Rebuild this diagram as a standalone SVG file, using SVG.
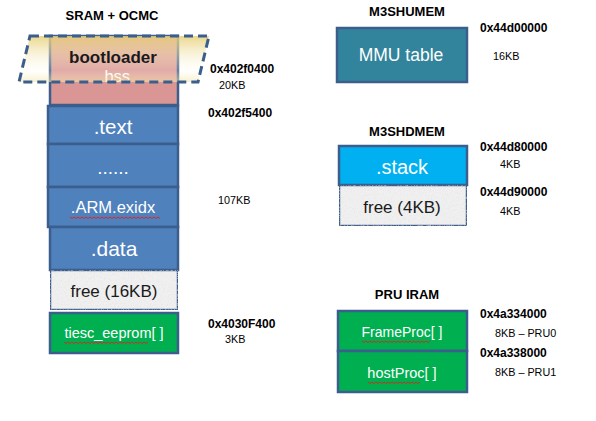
<svg xmlns="http://www.w3.org/2000/svg" width="596" height="421" viewBox="0 0 596 421">
<defs>
<linearGradient id="bl" x1="0" y1="0" x2="0" y2="1">
<stop offset="0" stop-color="#E6CF78" stop-opacity="0.85"/>
<stop offset="0.75" stop-color="#FFFCEE" stop-opacity="0.2"/>
<stop offset="1" stop-color="#F3E4A6" stop-opacity="0.6"/>
</linearGradient>
<filter id="grain" x="0" y="0" width="1" height="1">
<feTurbulence type="fractalNoise" baseFrequency="0.7" numOctaves="2" seed="3" result="n"/>
<feColorMatrix in="n" type="matrix" values="0 0 0 0 0.75  0 0 0 0 0.75  0 0 0 0 0.75  0 0 0 1.6 -0.75" result="c"/>
<feComposite in="c" in2="SourceGraphic" operator="in" result="t"/>
<feMerge><feMergeNode in="SourceGraphic"/><feMergeNode in="t"/></feMerge>
</filter>
</defs>
<style>
.box{stroke:#3B5E8C;stroke-width:2.5}
.blue{fill:#4F81BD}
.green{fill:#00B050}
.free{fill:#F0F0F0}
.wt{font-family:"Liberation Sans",Arial,sans-serif;fill:#FFFFFF;text-anchor:middle}
.dk{font-family:"Liberation Sans",Arial,sans-serif;fill:#1A1A1A;text-anchor:middle}
.title{font-family:"Liberation Sans",Arial,sans-serif;font-weight:bold;font-size:13px;fill:#000;text-anchor:middle}
.addr{font-family:"Liberation Sans",Arial,sans-serif;font-weight:bold;font-size:12px;fill:#000}
.sz{font-family:"Liberation Sans",Arial,sans-serif;font-size:10.8px;fill:#000}
.sq{fill:none;stroke:#E02020;stroke-width:0.9}
</style>
<rect width="596" height="421" fill="#FFFFFF"/>

<g id="sram">
<text class="title" x="112" y="20">SRAM + OCMC</text>
<g id="bss">
<rect class="box" x="50" y="36" width="128" height="69" fill="#D99694"/>
<text class="wt" x="115" y="81.5" font-size="16.5">.bss</text>
</g>
<g id="bootloader">
<polygon points="30,36 209,36 198,82 19,82" fill="url(#bl)" stroke="#3B5E8C" stroke-width="3" stroke-dasharray="9,5"/>
<text class="dk" x="113" y="62.5" font-size="17" font-weight="bold" fill="#262626">bootloader</text>
</g>
<g id="text">
<rect class="box blue" x="48" y="106" width="130" height="38"/>
<text class="wt" x="113" y="134" font-size="20.5">.text</text>
</g>
<g id="dots">
<rect class="box blue" x="48" y="144" width="130" height="43"/>
<text class="wt" x="113" y="174" font-size="19">......</text>
</g>
<g id="armexidx">
<rect class="box blue" x="48" y="187" width="130" height="40"/>
<text class="wt" x="113" y="213" font-size="16.5">.ARM.exidx</text>
</g>
<g id="data">
<rect class="box blue" x="50" y="227" width="128" height="43"/>
<text class="wt" x="114" y="256" font-size="21">.data</text>
</g>
<g id="free16">
<rect class="box free" x="50" y="270" width="128" height="40" filter="url(#grain)"/>
<text class="dk" x="114" y="297" font-size="17">free (16KB)</text>
</g>
<g id="eeprom">
<rect class="box green" x="50" y="313" width="128" height="40"/>
<text class="wt" x="114" y="338" font-size="14.5">tiesc_eeprom[ ]</text>
</g>
<text class="addr" x="210" y="73">0x402f0400</text>
<text class="sz" x="219" y="89">20KB</text>
<text class="addr" x="208" y="117">0x402f5400</text>
<text class="sz" x="218" y="204">107KB</text>
<text class="addr" x="208" y="328">0x4030F400</text>
<text class="sz" x="225" y="343">3KB</text>
</g>

<g id="m3shumem">
<text class="title" x="407" y="16">M3SHUMEM</text>
<g id="mmu">
<rect class="box" x="337" y="28" width="130" height="54" fill="#31849B"/>
<text class="wt" x="401" y="61" font-size="17.5">MMU table</text>
</g>
<text class="addr" x="480" y="32">0x44d00000</text>
<text class="sz" x="493" y="60">16KB</text>
</g>

<g id="m3shdmem">
<text class="title" x="407" y="136">M3SHDMEM</text>
<g id="stack">
<rect class="box" x="339" y="146" width="128" height="39" fill="#00B0F0"/>
<text class="wt" x="402" y="174" font-size="20">.stack</text>
</g>
<g id="free4">
<rect class="box free" x="339" y="185" width="128" height="41" filter="url(#grain)"/>
<text class="dk" x="402" y="213" font-size="17">free (4KB)</text>
</g>
<text class="addr" x="480" y="151">0x44d80000</text>
<text class="sz" x="500" y="168">4KB</text>
<text class="addr" x="480" y="196">0x44d90000</text>
<text class="sz" x="500" y="215">4KB</text>
</g>

<g id="pruiram">
<text class="title" x="407" y="299">PRU IRAM</text>
<g id="frameproc">
<rect class="box green" x="338" y="311" width="129" height="40"/>
<text class="wt" x="402" y="337" font-size="14">FrameProc[ ]</text>
</g>
<g id="hostproc">
<rect class="box green" x="338" y="351" width="129" height="41"/>
<text class="wt" x="402" y="378" font-size="14.5">hostProc[ ]</text>
</g>
<text class="addr" x="480" y="318">0x4a334000</text>
<text class="sz" x="495" y="337">8KB – PRU0</text>
<text class="addr" x="480" y="357">0x4a338000</text>
<text class="sz" x="495" y="376">8KB – PRU1</text>
</g>

<g id="connectors"></g>

<g id="spellmarks">
<path class="sq" d="M70,217 l2,1.5 2,-1.5 2,1.5 2,-1.5 2,1.5 2,-1.5 2,1.5 2,-1.5 2,1.5 2,-1.5 2,1.5 2,-1.5 2,1.5 2,-1.5 2,1.5 2,-1.5 2,1.5 2,-1.5 2,1.5 2,-1.5 2,1.5 2,-1.5 2,1.5 2,-1.5 2,1.5 2,-1.5 2,1.5 2,-1.5 2,1.5 2,-1.5 2,1.5 2,-1.5 2,1.5 2,-1.5 2,1.5 2,-1.5 2,1.5 2,-1.5 2,1.5 2,-1.5 2,1.5 2,-1.5 2,1.5 2,-1.5 2,1.5"/>
<path class="sq" d="M64,342 l2,1.5 2,-1.5 2,1.5 2,-1.5 2,1.5 2,-1.5 2,1.5 2,-1.5 2,1.5 2,-1.5 2,1.5 2,-1.5 2,1.5 2,-1.5 2,1.5 2,-1.5 2,1.5 2,-1.5 2,1.5 2,-1.5 2,1.5 2,-1.5 2,1.5 2,-1.5 2,1.5 2,-1.5 2,1.5 2,-1.5 2,1.5 2,-1.5 2,1.5 2,-1.5 2,1.5 2,-1.5 2,1.5 2,-1.5 2,1.5 2,-1.5 2,1.5 2,-1.5 2,1.5 2,-1.5"/>
<path class="sq" d="M362,341 l2,1.5 2,-1.5 2,1.5 2,-1.5 2,1.5 2,-1.5 2,1.5 2,-1.5 2,1.5 2,-1.5 2,1.5 2,-1.5 2,1.5 2,-1.5 2,1.5 2,-1.5 2,1.5 2,-1.5 2,1.5 2,-1.5 2,1.5 2,-1.5 2,1.5 2,-1.5 2,1.5 2,-1.5 2,1.5 2,-1.5 2,1.5 2,-1.5 2,1.5 2,-1.5 2,1.5 2,-1.5"/>
<path class="sq" d="M368,382 l2,1.5 2,-1.5 2,1.5 2,-1.5 2,1.5 2,-1.5 2,1.5 2,-1.5 2,1.5 2,-1.5 2,1.5 2,-1.5 2,1.5 2,-1.5 2,1.5 2,-1.5 2,1.5 2,-1.5 2,1.5 2,-1.5 2,1.5 2,-1.5 2,1.5 2,-1.5 2,1.5 2,-1.5"/>
</g>
</svg>
